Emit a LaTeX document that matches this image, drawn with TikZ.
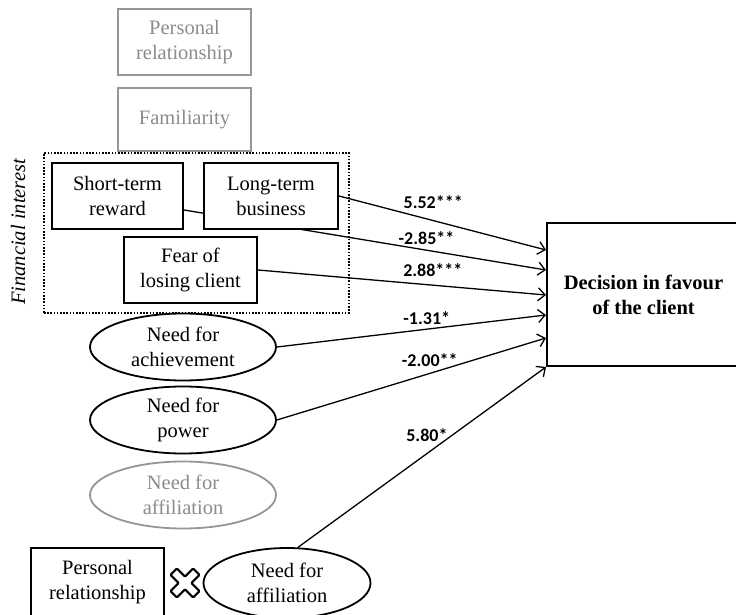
\documentclass[tikz,border=0pt]{standalone}
\usepackage{fontspec}
\setmainfont{Liberation Serif}
\newfontfamily\lblfont{Carlito}
\usepackage{xcolor}
\usetikzlibrary{arrows.meta,positioning,backgrounds,shapes.geometric}
\definecolor{faded}{RGB}{140,140,140}
\definecolor{fadedline}{RGB}{150,150,150}
\newcommand{\bigtxt}{\fontsize{20.5}{25}\selectfont}

\begin{document}
\begin{tikzpicture}[x=1pt,y=1pt,font=\bigtxt,
  var/.style={draw,line width=2pt,fill=white,inner sep=0pt,align=center},
  oldvar/.style={var,draw=fadedline,text=faded},
  motive/.style={draw,ellipse,line width=1.8pt,fill=white,inner sep=0pt,
    minimum width=186,minimum height=67,align=center},
  coef/.style={font=\lblfont\bfseries\fontsize{18}{20}\selectfont},
  effect/.style={line width=1.3pt,-{Straight Barb[length=7pt,width=13pt]}}]
\useasboundingbox (0,0) rectangle (736,614);
% earlier predictors (grey)
\node[oldvar,minimum width=133,minimum height=66] (prel) at (184.5,572) {Personal\\relationship};
\node[oldvar,minimum width=133,minimum height=63,below=11pt of prel] (fam) {Familiarity};

% financial interest block
\node[draw,line width=1.8pt,dash pattern=on 1.6pt off 1.6pt,minimum width=305,minimum height=160] (finbox) at (196.5,381) {};
\node[rotate=90,font=\bigtxt\itshape] (fintxt) at (18,382) {Financial interest};
\node[var,minimum width=131,minimum height=66] (short) at (117.5,418) {Short-term\\reward};
\node[var,minimum width=134,minimum height=66] (long) at (271,418) {Long-term\\business};
\node[var,minimum width=133,minimum height=66] (fear) at (190.5,344) {Fear of\\losing client};

% motives
\node[motive] (ach) at (183,267) {Need for\\achievement};
\node[motive] (pow) at (183,194) {Need for\\power};
\node[motive,draw=fadedline,text=faded] (aff) at (183,119) {Need for\\affiliation};

% interaction term
\node[var,minimum width=133,minimum height=68] (prel2) at (97.5,32) {Personal\\relationship};
\node[motive,minimum width=167,minimum height=70] (aff2) at (287,31) {Need for\\affiliation};
\coordinate (cross) at (185,31);
\draw[line width=2pt,rounded corners=0.8pt,shift={(cross)}]
  (0,6.4) -- (8.1,14.5) -- (14.5,8.1) -- (6.4,0) -- (14.5,-8.1) -- (8.1,-14.5)
  -- (0,-6.4) -- (-8.1,-14.5) -- (-14.5,-8.1) -- (-6.4,0) -- (-14.5,8.1)
  -- (-8.1,14.5) -- cycle;

% outcome
\node[var,minimum width=193,minimum height=143,font=\bigtxt\bfseries] (dec) at (643.5,319.5) {Decision in favour\\of the client};

% paths
\begin{scope}[on background layer]
\draw[effect] (long.east) -- node[coef,pos=.455,yshift=18.6pt]{5.52***} ([yshift=117pt]dec.south west);
\draw[effect] ([yshift=-14pt]short.east) -- node[coef,pos=.67,yshift=12.5pt]{-2.85**} ([yshift=97pt]dec.south west);
\draw[effect] (fear.east) -- node[coef,pos=.607,yshift=14.6pt]{2.88***} ([yshift=72pt]dec.south west);
\draw[effect] (ach.east) -- node[coef,pos=.557,yshift=11.2pt]{-1.31*} ([yshift=52pt]dec.south west);
\draw[effect] (pow.east) -- node[coef,pos=.568,yshift=13.8pt]{-2.00**} ([yshift=29pt]dec.south west);
\draw[effect] (aff2.73) -- node[coef,pos=.52,yshift=18.4pt]{5.80*} (dec.south west);
\end{scope}
\end{tikzpicture}
\end{document}
